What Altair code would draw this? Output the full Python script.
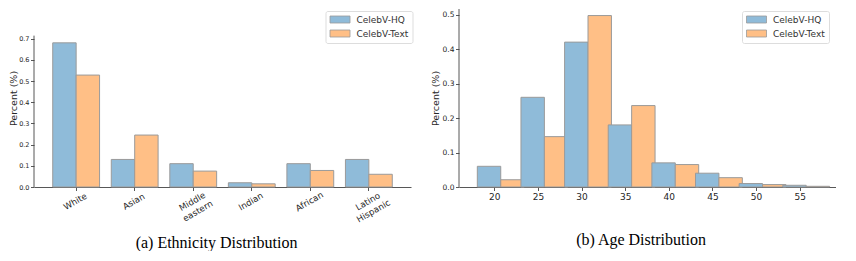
import altair as alt
import pandas as pd

series = ["CelebV-HQ", "CelebV-Text"]
colors = ["#8fbbd9", "#ffbf86"]

ethnicities = ["White", "Asian", "Middle eastern", "Indian", "African", "Latino Hispanic"]
eth_hq = [0.68, 0.13, 0.11, 0.02, 0.11, 0.13]
eth_text = [0.528, 0.245, 0.075, 0.015, 0.078, 0.06]
eth_ticks = [0.0, 0.1, 0.2, 0.3, 0.4, 0.5, 0.6, 0.7]
eth_ylim = 0.714

ages = ["20", "25", "30", "35", "40", "45", "50", "55"]
age_hq = [0.06, 0.26, 0.42, 0.18, 0.07, 0.04, 0.01, 0.005]
age_text = [0.021, 0.146, 0.497, 0.236, 0.065, 0.027, 0.007, 0.002]
age_ticks = [0.0, 0.1, 0.2, 0.3, 0.4, 0.5]
age_ylim = 0.516

AXIS_COLOR = "#444444"


def long_table(cats, hq, text):
    rows = []
    for c, a, b in zip(cats, hq, text):
        rows.append({"cat": c, "series": series[0], "value": a})
        rows.append({"cat": c, "series": series[1], "value": b})
    return pd.DataFrame(rows)


def panel(df, cats, ticks, ymax, ylim, pad_outer, xaxis, ylabel_size, title_x,
          legend_x, legend_y, caption, cap_offset, cap_dx):
    yscale = alt.Scale(domain=[0, ymax], nice=False, zero=True)
    yaxis = alt.Axis(title="Percent (%)", values=ticks, format=".1f",
                     labelFontSize=ylabel_size, grid=False,
                     domain=False, titleX=title_x,
                     titleFontSize=9.5, titleFontWeight="normal",
                     labelPadding=1.5)
    bars = (
        alt.Chart(df)
        .mark_bar(stroke="#9a9a9a", strokeWidth=1)
        .encode(
            x=alt.X("cat:N", sort=cats,
                    scale=alt.Scale(paddingInner=0.2, paddingOuter=pad_outer),
                    axis=xaxis),
            xOffset=alt.XOffset("series:N", sort=series,
                                scale=alt.Scale(paddingInner=0, paddingOuter=0)),
            y=alt.Y("value:Q", scale=yscale, axis=yaxis),
            color=alt.Color(
                "series:N",
                scale=alt.Scale(domain=series, range=colors),
                legend=alt.Legend(
                    title=None, orient="none", legendX=legend_x, legendY=legend_y,
                    symbolType="M-2.5,-0.875H2.5V0.875H-2.5Z", symbolSize=64,
                    symbolStrokeColor="#9a9a9a", symbolStrokeWidth=0.8,
                    symbolOffset=6, labelOffset=12,
                    labelFont="DejaVu Sans", labelFontSize=9, labelColor="#333333",
                    padding=4, rowPadding=3, strokeColor="#dddddd",
                    fillColor="white", cornerRadius=2),
            ),
        )
    )
    # left spine, drawn from 0 up to the axis limit
    spine = (
        alt.Chart(pd.DataFrame({"value": [0.0], "hi": [ylim]}))
        .mark_rule(color=AXIS_COLOR, strokeWidth=0.9)
        .encode(x=alt.value(0), y=alt.Y("value:Q", scale=yscale, axis=yaxis),
                y2="hi:Q")
    )
    return alt.layer(bars, spine).properties(
        width=377, height=178,
        title=alt.TitleParams(text=caption, orient="bottom", anchor="middle",
                              font="Liberation Serif", fontSize=16,
                              fontWeight="normal", color="black",
                              baseline="alphabetic", offset=cap_offset, dx=cap_dx),
    )


left_axis = alt.Axis(title=None, labelAngle=330, labelAlign="center",
                     labelBaseline="top", labelPadding=7, labelOffset=-3,
                     labelFontSize=8.7, labelLineHeight=11,
                     labelExpr="split(datum.label, ' ')", bandPosition=0.5)
right_axis = alt.Axis(title=None, labelAngle=0, labelFontSize=9, labelPadding=2,
                      bandPosition=0.5)

left = panel(long_table(ethnicities, eth_hq, eth_text), ethnicities, eth_ticks,
             178 / 212, eth_ylim, 0.32, left_axis, 6.5, -16, 291.5, 2,
             "(a) Ethnicity Distribution", 24, -6)
right = panel(long_table(ages, age_hq, age_text), ages, age_ticks,
              age_ylim, age_ylim, 0.42, right_axis, 7.5, -19, 283, 2,
              "(b) Age Distribution", 43, -6.5)

chart = (
    alt.hconcat(left, right, spacing=17)
    .resolve_scale(color="independent")
    .properties(padding={"left": 0, "top": 0, "right": 0, "bottom": 0},
                background="white")
    .configure_view(stroke=None)
    .configure_axis(labelFont="DejaVu Sans", titleFont="DejaVu Sans",
                    labelColor="#262626", titleColor="#262626",
                    domainColor=AXIS_COLOR, tickColor=AXIS_COLOR,
                    domainWidth=0.9, tickWidth=0.9, tickSize=3.5)
)

chart.save("out.html", embed_options={"renderer": "svg", "actions": False})
